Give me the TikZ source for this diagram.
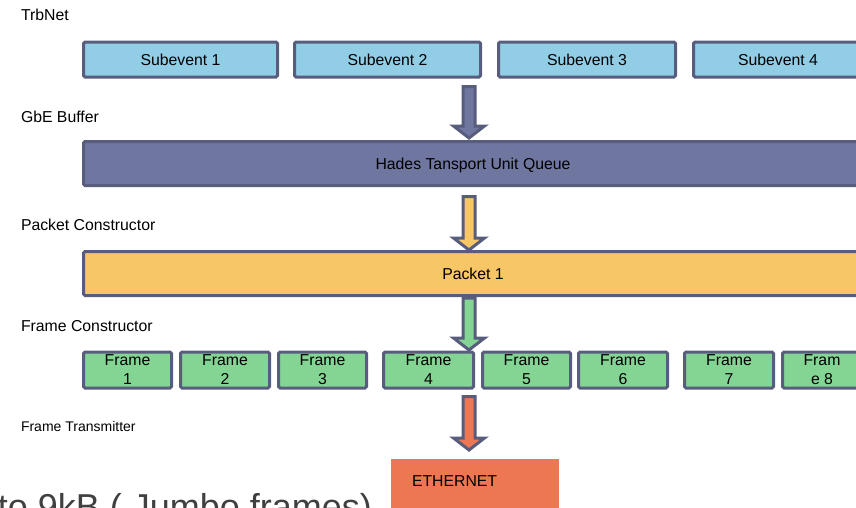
\documentclass[tikz,border=0pt]{standalone}
\usepackage{fontspec}
\setmainfont{Liberation Sans}
\usetikzlibrary{calc}
\definecolor{bordercol}{HTML}{595D7D}
\definecolor{subfill}{HTML}{92CDE6}
\definecolor{hadesfill}{HTML}{6F77A0}
\definecolor{packfill}{HTML}{F6C667}
\definecolor{framefill}{HTML}{84D594}
\definecolor{ethfill}{HTML}{ED7752}
\definecolor{bigtext}{HTML}{404040}
\newcommand\blockarrow[3]{%
  \draw[arrowbody, fill=#3] let \p1=(#1), \p2=(#2) in
    (\x1-6pt,\y1) -- (\x1+6pt,\y1) -- (\x1+6pt,\y2+12pt) -- (\x1+15.5pt,\y2+12pt)
    -- (\x1,\y2) -- (\x1-15.5pt,\y2+12pt) -- (\x1-6pt,\y2+12pt) -- cycle;}
\begin{document}
\begin{tikzpicture}[x=1pt,y=-1pt,
  every node/.style={inner sep=0pt, outer sep=0pt, font=\fontsize{15.8}{19}\selectfont},
  box/.style={draw=bordercol, line width=3pt, rounded corners=1.5pt, align=center},
  subbox/.style={box, fill=subfill, minimum height=35pt, text depth=0pt},
  bar/.style={box, fill=#1, minimum height=44pt, minimum width=779pt, text depth=0pt},
  framebox/.style={box, fill=framefill, minimum height=36pt, minimum width=89pt},
  lbl/.style={anchor=base west},
  arrowbody/.style={draw=bordercol, line width=3pt, line join=miter}]
\useasboundingbox (0,0) rectangle (856,507);
\clip (0,0) rectangle (856,507);

% layer labels
\node[lbl] (lTrb) at (21,20.7) {TrbNet};
\node[lbl] (lGbe) at (21,122.5) {GbE Buffer};
\node[lbl] (lPack) at (21,230) {Packet Constructor};
\node[lbl] (lFrame) at (21,331.5) {Frame Constructor};
\node[lbl, font=\fontsize{14}{17}\selectfont] (lTx) at (21,431) {Frame Transmitter};

% subevents
\node[subbox, minimum width=194pt] (sub1) at (180.5,59.5) {Subevent 1};
\node[subbox, minimum width=186pt] (sub2) at (387.5,59.5) {Subevent 2};
\node[subbox, minimum width=177pt] (sub3) at (587,59.5) {Subevent 3};
\node[subbox, minimum width=169pt] (sub4) at (778,59.5) {Subevent 4};

% bars
\node[bar=hadesfill] (hades) at (473,163.5) {Hades Tansport Unit Queue};
\node[bar=packfill] (packet) at (473,273.5) {Packet 1};

% frames
\node[framebox, minimum width=88pt] (f1) at (127.5,370) {Frame\\1};
\node[framebox] (f2) at (225,370) {Frame\\2};
\node[framebox, minimum width=88pt] (f3) at (322.5,370) {Frame\\3};
\node[framebox, minimum width=90pt] (f4) at (428.5,370) {Frame\\4};
\node[framebox, minimum width=88pt] (f5) at (526.5,370) {Frame\\5};
\node[framebox] (f6) at (623,370) {Frame\\6};
\node[framebox] (f7) at (729,370) {Frame\\7};
\node[framebox, minimum width=79pt] (f8) at (822,370) {Fram\\e 8};

% ethernet
\fill[ethfill] (391,459) rectangle (559,520);
\node[anchor=base west] (eth) at (412,486) {ETHERNET};

% bottom text (cut off in the reference)
\node[anchor=base east, text=bigtext, font=\fontsize{36}{40}\selectfont] (jumbo) at (372,519) {to 9kB ( Jumbo frames)};

% arrows
\coordinate (a1s) at (469,86.5);
\coordinate (a1t) at (469,138);
\coordinate (a2s) at (469,196.5);
\coordinate (a2t) at (469,250);
\coordinate (a3s) at (469,298);
\coordinate (a3t) at (469,350);
\coordinate (a4s) at (469,396.5);
\coordinate (a4t) at (469,450);
\blockarrow{a1s}{a1t}{hadesfill}
\blockarrow{a2s}{a2t}{packfill}
\blockarrow{a3s}{a3t}{framefill}
\blockarrow{a4s}{a4t}{ethfill}
\end{tikzpicture}
\end{document}
